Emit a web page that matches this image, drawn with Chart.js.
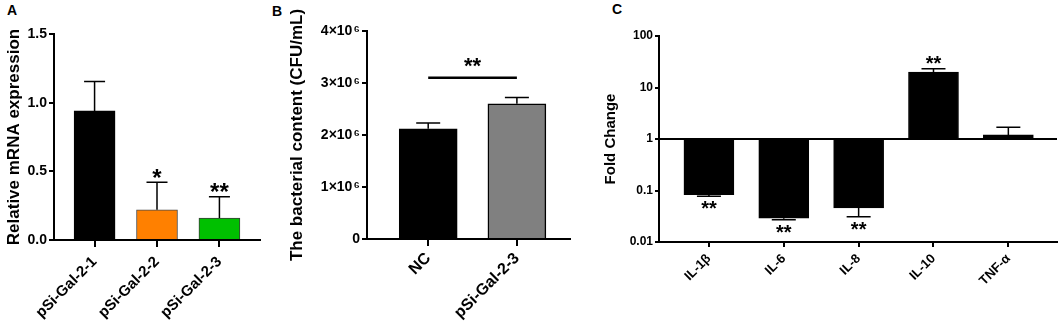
<!DOCTYPE html>
<html>
<head>
<meta charset="utf-8">
<script src="https://cdn.jsdelivr.net/npm/chart.js@4.4.0/dist/chart.umd.min.js"></script>
<style>
  body { margin: 0; background: #fff; width: 1061px; height: 327px; position: relative; overflow: hidden; }
  canvas { position: absolute; top: 0; }
  .tag { position: absolute; font: bold 14px "Liberation Sans", Arial, sans-serif; color: #000; }
</style>
</head>
<body>
<div class="tag" style="left:7px;top:2px">A</div>
<div class="tag" style="left:272px;top:3px">B</div>
<div class="tag" style="left:612px;top:1px">C</div>
<canvas id="panelA" width="265" height="327" style="left:0px"></canvas>
<canvas id="panelB" width="301" height="327" style="left:270px"></canvas>
<canvas id="panelC" width="471" height="327" style="left:590px"></canvas>
<script>
// panel A - relative mRNA expression
const catsA = ["pSi-Gal-2-1", "pSi-Gal-2-2", "pSi-Gal-2-3"];
const meanA = [0.94, 0.22, 0.16];
const errEndA = [1.155, 0.42, 0.315];
const starsA = ["", "*", "**"];
const colorsA = ["#000000", "#ff8000", "#00c000"];
const yTicksA = [0, 0.5, 1, 1.5];

// panel B - bacterial content
const catsB = ["NC", "pSi-Gal-2-3"];
const meanB = [2.12e6, 2.6e6];
const errEndB = [2.23e6, 2.72e6];
const yTicksB = [0, 1e6, 2e6, 3e6, 4e6];
const yTickLabelsB = ["0", "1×10\u200a⁶", "2×10\u200a⁶", "3×10\u200a⁶", "4×10\u200a⁶"];
const sigLevelB = 3.1e6;
const sigTextB = "**";

// panel C - fold change (log)
const catsC = ["IL-1β", "IL-6", "IL-8", "IL-10", "TNF-α"];
const foldC = [0.083, 0.029, 0.046, 20, 1.2];
const errEndC = [0.077, 0.027, 0.031, 23, 1.7];
const starsC = ["**", "**", "**", "**", ""];
const yTicksC = [0.01, 0.1, 1, 10, 100];
const yTickLabelsC = ["0.01", "0.1", "1", "10", "100"];

const FONT = '"Liberation Sans", Arial, sans-serif';
Chart.defaults.font.family = FONT;
Chart.defaults.color = "#000";
Chart.defaults.animation = false;

function axisLook(tickLen) {
  return {
    border: { display: true, color: "#000", width: 2 },
    grid: { drawOnChartArea: false, drawTicks: true, tickLength: tickLen, tickColor: "#000", tickWidth: 2, lineWidth: 2, color: "#000", offset: false },
  };
}

// error bars + stars, drawn through the scales
const errorBars = {
  id: "errorBars",
  afterDatasetsDraw(chart, args, opts) {
    if (!opts.ends) return;
    const { ctx, scales: { x, y } } = chart;
    const data = chart.data.datasets[0].data;
    ctx.save();
    ctx.strokeStyle = "#000";
    ctx.lineWidth = opts.width || 1.5;
    opts.ends.forEach((end, i) => {
      const px = x.getPixelForValue(i);
      const y0 = y.getPixelForValue(data[i].y);
      const y1 = y.getPixelForValue(end);
      ctx.beginPath();
      ctx.moveTo(px, y0);
      ctx.lineTo(px, y1);
      ctx.moveTo(px - opts.cap / 2, y1);
      ctx.lineTo(px + opts.cap / 2, y1);
      ctx.stroke();
      const s = opts.stars && opts.stars[i];
      if (s) {
        ctx.font = "bold " + opts.starSize + "px " + FONT;
        ctx.fillStyle = "#000";
        ctx.textAlign = "center";
        ctx.textBaseline = "alphabetic";
        const m = ctx.measureText(s);
        const up = end >= data[i].y;
        const cy = up ? y1 - opts.gap : Math.max(y1, y0) + opts.gap;
        ctx.fillText(s, px, cy + (m.actualBoundingBoxAscent - m.actualBoundingBoxDescent) / 2);
      }
    });
    ctx.restore();
  },
};

const sigLine = {
  id: "sigLine",
  afterDatasetsDraw(chart, args, opts) {
    if (opts.level == null) return;
    const { ctx, scales: { x, y } } = chart;
    const py = y.getPixelForValue(opts.level);
    const x0 = x.getPixelForValue(0), x1 = x.getPixelForValue(1);
    ctx.save();
    ctx.strokeStyle = "#000";
    ctx.lineWidth = 2.5;
    ctx.beginPath();
    ctx.moveTo(x0, py);
    ctx.lineTo(x1, py);
    ctx.stroke();
    ctx.font = "bold 22px " + FONT;
    ctx.textAlign = "center";
    const m = ctx.measureText(opts.text);
    ctx.fillText(opts.text, (x0 + x1) / 2, py - 15 + (m.actualBoundingBoxAscent - m.actualBoundingBoxDescent) / 2);
    ctx.restore();
  },
};

const baseLine = {
  id: "baseLine",
  beforeDatasetsDraw(chart, args, opts) {
    if (opts.value == null) return;
    const { ctx, chartArea, scales: { y } } = chart;
    const py = y.getPixelForValue(opts.value);
    ctx.save();
    ctx.strokeStyle = "#000";
    ctx.lineWidth = 2;
    ctx.beginPath();
    ctx.moveTo(chartArea.left, py);
    ctx.lineTo(chartArea.right, py);
    ctx.stroke();
    ctx.restore();
  },
};

Chart.register(errorBars, sigLine, baseLine);

// A
new Chart(document.getElementById("panelA"), {
  type: "bar",
  data: {
    datasets: [{
      data: meanA.map((v, i) => ({ x: i, y: v })),
      backgroundColor: colorsA,
      borderColor: ["#000", "#4a4a4a", "#3a3a3a"],
      borderWidth: 1,
      barThickness: 41,
    }],
  },
  options: {
    responsive: false,
    layout: { padding: { top: 34, right: 5, left: 0, bottom: 0 } },
    plugins: {
      legend: { display: false }, tooltip: { enabled: false },
      errorBars: { ends: errEndA, cap: 21, width: 1.5, stars: starsA, starSize: 24, gap: 9 },
    },
    scales: {
      x: {
        type: "linear", min: -0.65, max: 2.65, offset: false,
        ...axisLook(7),
        afterBuildTicks: s => { s.ticks = catsA.map((_, i) => ({ value: i })); },
        afterFit: s => { s.height = 87; },
        ticks: { autoSkip: false, minRotation: 45, maxRotation: 45, padding: 6, font: { size: 15, weight: "bold" }, callback: v => catsA[v] },
      },
      y: {
        min: 0, max: 1.5,
        ...axisLook(5),
        afterBuildTicks: s => { s.ticks = yTicksA.map(v => ({ value: v })); },
        afterFit: s => { s.width = 54; },
        ticks: { padding: 2, font: { size: 14, weight: "bold" }, callback: v => v.toFixed(1) },
        title: { display: true, text: "Relative mRNA expression", font: { size: 17, weight: "bold" }, padding: { top: 4, bottom: 0 } },
      },
    },
  },
});

// B
new Chart(document.getElementById("panelB"), {
  type: "bar",
  data: {
    datasets: [{
      data: meanB.map((v, i) => ({ x: i, y: v })),
      backgroundColor: ["#000000", "#808080"],
      borderColor: "#000",
      borderWidth: 1.5,
      barThickness: 58,
    }],
  },
  options: {
    responsive: false,
    layout: { padding: { top: 31, right: 0, left: 0, bottom: 0 } },
    plugins: {
      legend: { display: false }, tooltip: { enabled: false },
      errorBars: { ends: errEndB, cap: 24, width: 1.5 },
      sigLine: { level: sigLevelB, text: sigTextB },
    },
    scales: {
      x: {
        type: "linear", min: -0.69, max: 1.61, offset: false,
        ...axisLook(7),
        afterBuildTicks: s => { s.ticks = catsB.map((_, i) => ({ value: i })); },
        afterFit: s => { s.height = 88; },
        ticks: { autoSkip: false, minRotation: 45, maxRotation: 45, padding: 3, font: { size: 16, weight: "bold" }, callback: v => catsB[v] },
      },
      y: {
        min: 0, max: 4e6,
        ...axisLook(5),
        afterBuildTicks: s => { s.ticks = yTicksB.map(v => ({ value: v })); },
        afterFit: s => { s.width = 97; },
        ticks: { padding: 2, font: { size: 14, weight: "bold" }, callback: v => yTickLabelsB[yTicksB.indexOf(v)] },
        title: { display: true, text: "The bacterial content (CFU/mL)", font: { size: 17, weight: "bold" }, padding: { top: 17, bottom: 0 } },
      },
    },
  },
});

// C
new Chart(document.getElementById("panelC"), {
  type: "bar",
  data: {
    datasets: [{
      data: foldC.map((v, i) => ({ x: i, y: v })),
      base: 1,
      backgroundColor: "#000",
      borderColor: "#000",
      borderWidth: 1,
      barThickness: 50,
    }],
  },
  options: {
    responsive: false,
    layout: { padding: { top: 36, right: 4, left: 0, bottom: 0 } },
    plugins: {
      legend: { display: false }, tooltip: { enabled: false },
      errorBars: { ends: errEndC, cap: 24, width: 1.5, stars: starsC, starSize: 20, gap: 9 },
      baseLine: { value: 1 },
    },
    scales: {
      x: {
        type: "linear", min: -0.667, max: 4.65, offset: false,
        ...axisLook(5),
        afterBuildTicks: s => { s.ticks = catsC.map((_, i) => ({ value: i })); },
        afterFit: s => { s.height = 85; },
        ticks: { autoSkip: false, minRotation: 45, maxRotation: 45, padding: 4, font: { size: 13, weight: "bold" }, callback: v => catsC[v] },
      },
      y: {
        type: "logarithmic", min: 0.01, max: 100,
        ...axisLook(4),
        afterBuildTicks: s => { s.ticks = yTicksC.map(v => ({ value: v })); },
        afterFit: s => { s.width = 69; },
        ticks: { padding: 2, font: { size: 12, weight: "bold" }, callback: v => yTickLabelsC[yTicksC.indexOf(v)] },
        title: { display: true, text: "Fold Change", font: { size: 15, weight: "bold" }, padding: { top: 12, bottom: 0 } },
      },
    },
  },
});
</script>
</body>
</html>
